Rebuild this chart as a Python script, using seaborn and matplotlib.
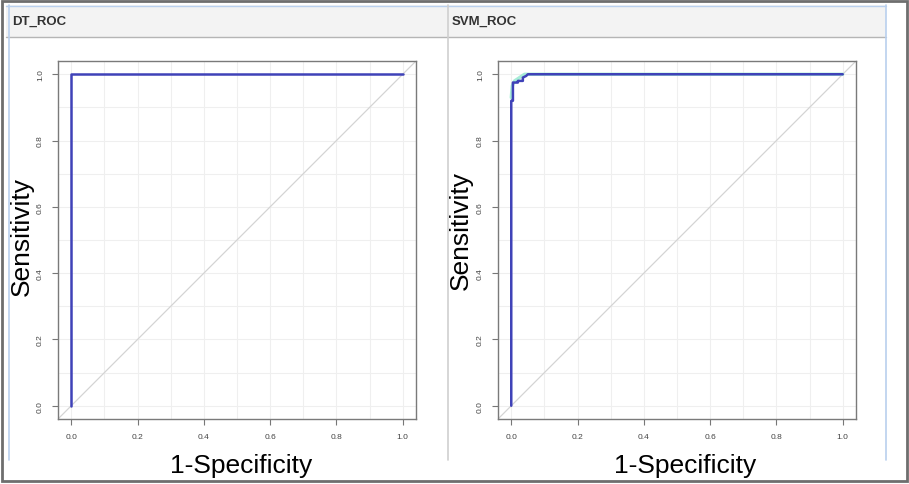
import matplotlib
matplotlib.use('Agg')
import matplotlib.pyplot as plt
import seaborn as sns
import pandas as pd
from matplotlib.patches import Rectangle
from matplotlib.lines import Line2D

# ROC data
dt_fpr = [0.0, 0.0, 1.0]
dt_tpr = [0.0, 1.0, 1.0]

svm_fpr = [0.0, 0.0, 0.005, 0.005, 0.02, 0.02, 0.035, 0.035, 0.045, 0.05, 1.0]
svm_tpr = [0.0, 0.92, 0.92, 0.975, 0.975, 0.98, 0.98, 0.99, 0.995, 1.0, 1.0]

svm_smooth_fpr = [0.0, 0.003, 0.01, 0.025, 0.04, 0.06, 1.0]
svm_smooth_tpr = [0.93, 0.965, 0.98, 0.99, 1.0, 1.0, 1.0]

panel_titles = ['DT_ROC', 'SVM_ROC']
tick_vals = [0.0, 0.2, 0.4, 0.6, 0.8, 1.0]
tick_labels = ['0.0', '0.2', '0.4', '0.6', '0.8', '1.0']
grid_vals = [i / 10 for i in range(11)]

sns.set_style('white')
plt.rcParams['font.family'] = ['Liberation Sans', 'DejaVu Sans']

W, H = 909, 485
fig = plt.figure(figsize=(W / 100, H / 100), dpi=100)


def fx(x):
    return x / W


def fy(y):
    return 1 - y / H


def frame_line(x0, y0, x1, y1, color, lw):
    fig.add_artist(Line2D([fx(x0), fx(x1)], [fy(y0), fy(y1)], color=color, lw=lw,
                          transform=fig.transFigure))


# screenshot chrome: header band, panel borders, outer frame
fig.add_artist(Rectangle((fx(6), fy(38)), fx(880), 32 / H, facecolor='#f3f3f3',
                         edgecolor='none', transform=fig.transFigure, zorder=0))
frame_line(6, 38, 886, 38, '#b5b5b5', 1.0)
frame_line(6, 6.5, 886, 6.5, '#b9d0ee', 1.0)
frame_line(8.5, 6, 8.5, 461, '#b9d0ee', 1.2)
frame_line(886, 6, 886, 461, '#b9d0ee', 1.2)
frame_line(447.5, 6, 447.5, 461, '#cfcfcf', 1.2)
fig.add_artist(Rectangle((fx(2), fy(482)), fx(905), 480 / H, facecolor='none',
                         edgecolor='#6e6e6e', lw=2, transform=fig.transFigure))

fig.text(fx(12), fy(22), panel_titles[0], fontsize=9.5, fontweight='bold',
         color='#333333', va='center', ha='left')
fig.text(fx(452), fy(22), panel_titles[1], fontsize=9.5, fontweight='bold',
         color='#333333', va='center', ha='left')

curves = [
    (58, dt_fpr, dt_tpr, None),
    (498, svm_fpr, svm_tpr, (svm_smooth_fpr, svm_smooth_tpr)),
]

for i, (left_px, fpr, tpr, smooth) in enumerate(curves):
    ax = fig.add_axes([fx(left_px), fy(420), 358 / W, 358 / H])
    ax.set_xlim(-0.04, 1.04)
    ax.set_ylim(-0.04, 1.04)

    for g in grid_vals:
        ax.axvline(g, color='#efefef', lw=0.8, zorder=0)
        ax.axhline(g, color='#efefef', lw=0.8, zorder=0)
    ax.plot([-0.04, 1.04], [-0.04, 1.04], color='#d4d4d4', lw=0.9, zorder=1)

    if smooth is not None:
        sdf = pd.DataFrame({'fpr': smooth[0], 'tpr': smooth[1]})
        sns.lineplot(data=sdf, x='fpr', y='tpr', sort=False, estimator=None,
                     color='#a6ecd6', lw=2.4, ax=ax, zorder=2)

    df = pd.DataFrame({'fpr': fpr, 'tpr': tpr})
    sns.lineplot(data=df, x='fpr', y='tpr', sort=False, estimator=None,
                 color='#3f42b8', lw=1.8, ax=ax, zorder=3)

    ax.set_xticks(tick_vals)
    ax.set_xticklabels(tick_labels, fontsize=6, color='#444444')
    ax.set_yticks(tick_vals)
    ax.set_yticklabels(tick_labels, fontsize=6, color='#444444', rotation=90, va='center')
    ax.tick_params(axis='both', length=4, width=0.8, color='#777777', pad=6, direction='out')
    ax.tick_params(axis='both', which='both', bottom=True, left=True)
    for s in ax.spines.values():
        s.set_color('#7a7a7a')
        s.set_linewidth(1.0)
    ax.set_xlabel('')
    ax.set_ylabel('')

fig.text(fx(241), fy(466), '1-Specificity', fontsize=19, ha='center', va='center', color='black')
fig.text(fx(685), fy(466), '1-Specificity', fontsize=19, ha='center', va='center', color='black')
fig.text(fx(22), fy(236), 'Sensitivity', fontsize=19, ha='center', va='center',
         rotation=90, color='black')
fig.text(fx(461), fy(230), 'Sensitivity', fontsize=19, ha='center', va='center',
         rotation=90, color='black')

fig.savefig('out.png', dpi=100)
